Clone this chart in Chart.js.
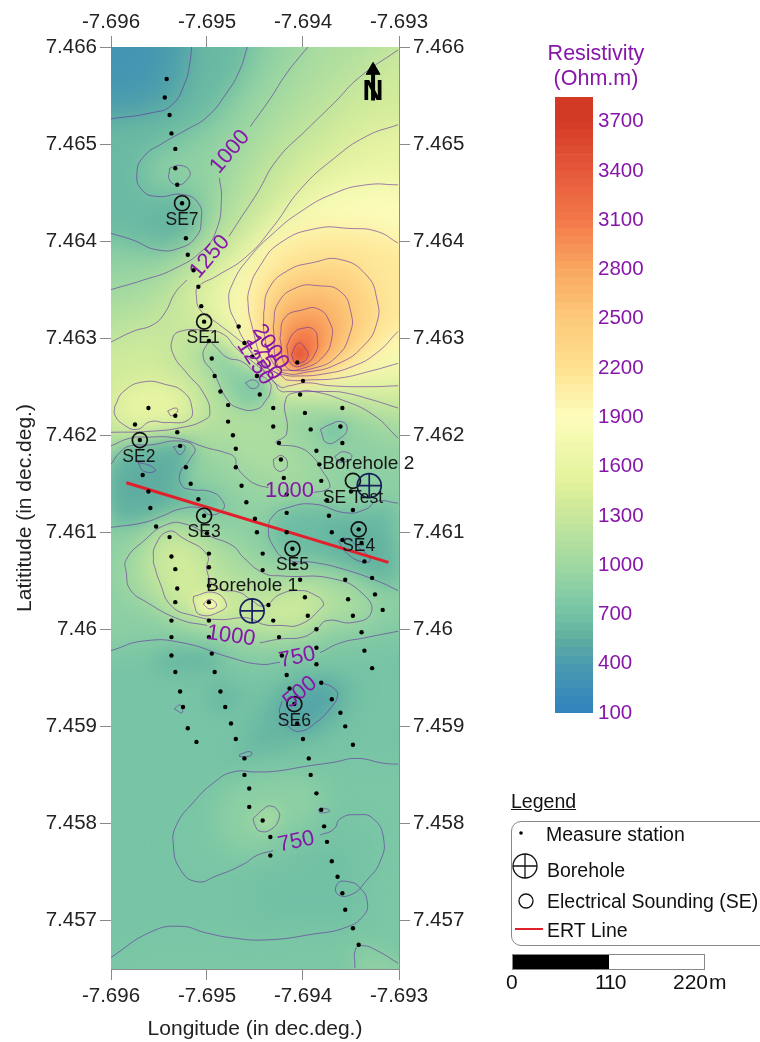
<!DOCTYPE html>
<html>
<head>
<meta charset="utf-8">
<script src="https://cdn.jsdelivr.net/npm/chart.js@4/dist/chart.umd.min.js"></script>
<style>
  body { margin: 0; background: #fff; width: 760px; height: 1042px; overflow: hidden; position: relative;
         font-family: "Liberation Sans", Arial, sans-serif; color: #111; }
  canvas { position: absolute; top: 0; }
  .t { position: absolute; font-size: 19.5px; white-space: nowrap; line-height: 20px; }
  .n { position: absolute; font-size: 21px; white-space: nowrap; line-height: 22px; top: 971px; }
  #barTitle { position: absolute; left: 496px; top: 41px; width: 200px; text-align: center; color: #8717a8; font-size: 21.5px; line-height: 25px; }
  #legendBox { position: absolute; left: 511px; top: 821px; width: 270px; height: 123px; border: 1px solid #888; border-radius: 10px; }
  #legendMarks { position: absolute; left: 505px; top: 820px; }
  #scaleBar { position: absolute; left: 512px; top: 954px; width: 191px; height: 14px; border: 1px solid #888; box-sizing: content-box; }
  #scaleBar div { width: 96px; height: 14px; background: #000; }
</style>
</head>
<body>
<canvas id="map" width="760" height="1042" style="left:0"></canvas>
<canvas id="bar" width="192" height="1042" style="left:500px"></canvas>

<div id="barTitle">Resistivity<br>(Ohm.m)</div>
<div class="t" style="left:511px;top:791px;text-decoration:underline">Legend</div>
<div id="legendBox"></div>
<svg id="legendMarks" width="50" height="125">
  <circle cx="16" cy="13" r="1.8" fill="#000"/>
  <circle cx="20" cy="46" r="12" fill="none" stroke="#111" stroke-width="1.3"/>
  <path d="M8 46H32M20 34V58" stroke="#111" stroke-width="1.3"/>
  <circle cx="21" cy="81" r="7" fill="none" stroke="#111" stroke-width="1.3"/>
  <path d="M10 109H38" stroke="#e0202a" stroke-width="2"/>
</svg>
<div class="t" style="left:546px;top:824px">Measure station</div>
<div class="t" style="left:547px;top:860px">Borehole</div>
<div class="t" style="left:547px;top:891px">Electrical Sounding (SE)</div>
<div class="t" style="left:547px;top:920px">ERT Line</div>
<div id="scaleBar"><div></div></div>
<div class="n" style="left:506px">0</div>
<div class="n" style="left:595px;letter-spacing:-1px">110</div>
<div class="n" style="left:673px">220</div>
<div class="n" style="left:709px">m</div>

<script>
// all map points are [east, south], in 1e-5 degrees from the NW corner (-7.696, 7.466)
const xTicks = [-7.696, -7.695, -7.694, -7.693];
const yTicks = [7.466, 7.465, 7.464, 7.463, 7.462, 7.461, 7.46, 7.459, 7.458, 7.457];
const barTicks = [100, 400, 700, 1000, 1300, 1600, 1900, 2200, 2500, 2800, 3100, 3400, 3700];
const barLevels = [100,150,200,250,300,350,400,450,500,550,600,650,700,750,800,850,900,950,1000,1050,1100,1150,1200,1250,1300,1350,1400,1450,1500,1550,1600,1650,1700,1750,1800,1850,1900,1950,2000,2050,2100,2150,2200,2250,2300,2350,2400,2450,2500,2550,2600,2650,2700,2750,2800,2850,2900,2950,3000,3050,3100,3150,3200,3250,3300,3350,3400,3450,3500,3550,3600,3650,3700,3750,3800];
const colorValues = [100, 400, 550, 700, 1000, 1300, 1500, 1900, 2200, 2500, 2800, 3100, 3400, 3700, 3850];
const colorHex = ['#3182bd','#4a9bb0','#5fae9f','#74c3a6','#a0d8a2','#c8e79b','#e2f29a','#fdfdbc','#fee18f','#fdc97a','#f9a75f','#f3784a','#e5583a','#d33a26','#d33a26'];

const stations = [[58,33],[56,52],[61,70],[63,89],[67,105],[67,125],[69,142],[74,161],[78,197],[80,214],[86,230],[91,247],[94,267],[97,283],[102,303],[105,321],[133,288],[139,305],[147,319],[108,339],[114,355],[122,369],[122,386],[127,400],[130,414],[130,433],[136,452],[141,469],[150,486],[152,500],[158,522],[158,539],[152,339],[155,358],[169,372],[169,391],[175,408],[177,425],[180,444],[183,461],[183,480],[183,500],[189,517],[191,533],[197,549],[202,567],[205,586],[214,600],[214,619],[214,636],[194,325],[200,344],[197,358],[202,377],[208,394],[214,416],[217,430],[219,447],[225,467],[227,483],[230,500],[241,508],[244,549],[247,569],[252,586],[261,603],[264,622],[272,640],[241,372],[239,391],[241,408],[241,425],[250,458],[252,477],[258,497],[261,511],[264,530],[272,547],[275,564],[283,580],[39,372],[67,380],[25,389],[69,397],[30,405],[72,411],[78,433],[33,441],[83,450],[39,458],[91,466],[41,475],[97,483],[47,494],[100,501],[61,505],[102,522],[63,525],[102,536],[67,538],[102,555],[69,558],[67,572],[102,572],[63,591],[102,591],[63,608],[102,608],[63,627],[105,625],[164,575],[169,591],[175,608],[178,627],[67,644],[108,644],[72,664],[114,664],[75,680],[119,680],[80,702],[125,697],[89,716],[130,713],[139,733],[139,750],[144,764],[144,783],[158,797],[166,814],[166,833],[183,647],[186,661],[191,677],[194,697],[200,713],[206,733],[208,750],[214,769],[219,786],[222,803],[225,819],[230,839],[236,855],[241,872],[244,889],[252,908],[258,925],[219,655],[230,672],[239,686],[244,700],[252,719]];
const soundings = [[74,161],[97,283],[30,405],[97,483],[189,517],[258,497],[191,677],[252,447]];
const boreholes = [[147,581],[269,452]];
const ertLine = [[16,449],[289,531]];
const northStem = [[273,24],[273,55]];
const northHead = [[273,24]];

// contour lines, one array per drawn piece
const c500top = [[84,0],[82,17],[77,37],[63,60],[41,68],[0,74]];
const c750top = [[142,0],[134,24],[120,48],[100,72],[79,85],[54,99],[34,113],[27,130],[32,147],[48,154],[75,152],[91,161],[94,178],[89,195],[72,207],[48,209],[23,199],[0,192]];
const c1000a = [[205,0],[183,27],[166,53],[145,82]];
const c1000b = [[113,135],[115,157],[110,188],[96,209],[65,229],[34,240],[0,250]];
const c1250a = [[299,3],[259,31],[232,58],[204,85],[173,116],[152,151],[134,178],[123,195]];
const c1250b = [[79,240],[67,253],[56,274],[44,286],[23,293],[0,304]];
const c1500 = [[299,80],[266,92],[232,115],[197,147],[169,185],[141,216],[110,236],[91,247],[89,257],[93,271],[110,284],[131,300],[143,310],[157,330],[176,350],[186,349],[204,346],[228,349],[270,350],[299,349]];
const c1750 = [[299,142],[266,142],[232,151],[197,170],[169,192],[145,216],[127,243],[123,264],[131,286],[138,301],[155,325],[178,339],[183,343],[207,343],[239,341],[270,334],[299,326]];
const c2000 = [[299,202],[277,190],[249,187],[214,187],[176,202],[155,226],[144,250],[143,267],[146,284],[159,326],[169,334],[181,338],[193,339],[221,337],[252,329],[277,315],[299,293]];
const peak2250 = [[159,274],[164,250],[183,231],[211,222],[239,219],[266,235],[277,260],[277,284],[263,308],[235,327],[204,335],[181,336],[169,326],[160,298],[159,274]];
const peak2500 = [[169,288],[174,264],[193,248],[216,246],[239,252],[250,274],[249,295],[235,319],[211,331],[186,333],[174,329],[169,288]];
const peak2750 = [[176,300],[181,279],[199,271],[216,270],[228,284],[230,300],[221,319],[200,331],[183,330],[176,300]];
const peak3000 = [[183,308],[190,295],[199,290],[211,291],[215,302],[213,315],[202,327],[188,327],[183,308]];
const peak3250 = [[188,317],[195,305],[202,310],[205,319],[197,326],[192,326],[188,317]];
const c1250west = [[299,372],[270,363],[242,356],[228,355],[186,355],[176,354],[170,345],[152,328],[130,310],[117,296],[98,292],[72,293],[64,301],[65,317],[79,336],[96,356],[103,377],[96,385],[74,392],[41,396],[0,397]];
const blobSE1 = [[102,302],[96,319],[107,336],[121,363],[133,372],[152,373],[162,363],[166,355],[165,345],[150,335],[136,324],[121,320],[110,310],[102,302]];
const c1000mid1 = [[0,411],[20,403],[35,402],[68,403],[100,413],[119,418],[129,423],[131,432],[141,444],[152,451],[164,454]];
const c1000mid2 = [[211,459],[225,456],[228,451],[219,435],[211,423],[197,413],[172,408],[183,398],[182,363],[197,355],[211,355],[239,363],[273,379],[299,403]];
const lowSE2 = [[0,430],[9,418],[20,411],[41,410],[72,406],[87,413],[82,425],[72,439],[74,452],[84,456],[103,458],[115,466],[117,476],[103,482],[93,475],[72,476],[54,483],[34,490],[0,495]];
const lowSE5 = [[299,470],[277,468],[266,476],[245,480],[211,471],[183,475],[169,483],[164,497],[169,514],[183,528],[211,531],[242,538],[277,550],[299,560]];
const c1000low = [[155,614],[176,610],[200,608],[214,600],[225,591],[252,593],[271,583],[263,564],[232,548],[178,545],[159,542],[138,526],[127,514],[103,504],[79,492],[58,492],[34,509],[16,528],[16,542],[20,559],[37,572],[72,590],[100,596]];
const c1250low = [[44,531],[51,552],[63,576],[86,586],[113,590],[138,588],[148,590],[159,595],[176,596],[197,595],[219,578],[221,572],[211,564],[197,560],[176,564],[159,576],[145,569],[134,562],[110,557],[100,540],[100,523],[75,506],[60,499],[46,514],[44,531]];
const c1500low = [[86,566],[107,562],[120,573],[115,581],[93,585],[86,572],[86,566]];
const c1750low = [[96,574],[103,569],[110,575],[103,579],[96,574]];
const c1500west = [[4,370],[13,355],[34,345],[58,348],[75,355],[84,370],[81,384],[58,387],[41,386],[27,394],[13,389],[4,379],[4,370]];
const c750a = [[0,622],[34,612],[75,614],[124,629],[155,636],[176,634]];
const c750b = [[218,624],[239,614],[263,609],[299,602]];
const c750c = [[299,739],[284,738],[256,733],[232,737],[204,741],[173,746],[152,747],[127,747],[107,758],[86,778],[68,802],[65,823],[72,847],[89,860],[110,854],[138,842],[152,833],[169,828]];
const c750d = [[218,812],[232,806],[239,795],[256,791],[273,795],[284,816],[280,840],[266,859],[251,873],[236,873],[236,862],[247,860],[259,866],[267,881],[263,895],[245,907],[211,914],[162,920],[127,918],[100,913],[72,906],[41,912],[0,938]];
const c1000corner = [[254,949],[255,929],[263,926],[277,931],[299,944]];
const c500SE6 = [[219,655],[231,660],[236,668],[228,682],[211,698],[197,705],[186,701],[176,687],[178,674]];
const isleA = [[61,125],[72,122],[82,128],[79,137],[70,142],[61,137],[61,125]];
const isleB = [[140,346],[148,343],[154,348],[147,352],[140,346]];
const isleC = [[59,375],[68,372],[69,376],[63,380],[59,375]];
const isleD = [[65,412],[77,411],[72,420],[65,412]];
const isleE = [[28,428],[42,432],[46,437],[34,437],[28,428]];
const isleF = [[218,394],[228,389],[240,386],[246,393],[239,403],[225,408],[218,394]];
const isleG = [[169,425],[178,421],[184,430],[178,437],[171,434],[169,425]];
const isleH = [[233,422],[242,417],[251,422],[239,428],[233,422]];
const isleI = [[237,509],[244,506],[256,514],[270,528],[263,531],[245,521],[237,509]];
const isleJ = [[66,682],[72,678],[74,686],[66,682]];
const isleK = [[134,729],[145,726],[146,730],[134,731],[134,729]];
const isleL = [[216,786],[219,784],[228,787],[218,789],[216,786]];
const isleM = [[148,795],[159,785],[166,782],[174,787],[175,795],[167,806],[155,808],[150,802],[148,795]];

const contourLines = [c500top,c750top,c1000a,c1000b,c1250a,c1250b,c1500,c1750,c2000,peak2250,peak2500,peak2750,peak3000,peak3250,c1250west,blobSE1,c1000mid1,c1000mid2,lowSE2,lowSE5,c1000low,c1250low,c1500low,c1750low,c1500west,c750a,c750b,c750c,c750d,c1000corner,c500SE6,isleA,isleB,isleC,isleD,isleE,isleF,isleG,isleH,isleI,isleJ,isleK,isleL,isleM];

// extra pockets of colour seen in the picture that have no contour of their own
const deepNW = [[-40,-40],[60,-40],[55,25],[35,50],[-40,55]];
const pocketSE7 = [[55,170],[85,165],[88,190],[60,200],[45,185]];
const pocketBlob = [[130,345],[155,338],[162,360],[140,370]];
const deepSE2 = [[0,440],[15,425],[60,415],[80,415],[72,437],[60,470],[30,480],[0,480]];
const deepSE4 = [[225,490],[270,490],[290,510],[295,545],[260,535],[225,515]];
const tealSE6 = [[152,686],[183,651],[211,645],[239,648],[256,661],[245,689],[218,710],[183,720],[152,730],[134,734]];
const tealMid = [[100,662],[117,655],[134,665],[131,682],[113,686],[103,675]];
const tealWest = [[48,625],[75,622],[110,622],[115,640],[80,645],[45,640]];
const tealSouthA = [[211,830],[245,830],[245,860],[211,860]];
const tealSouthB = [[155,860],[240,860],[258,880],[258,900],[200,895],[155,890]];
const paleMiddle = [[115,770],[150,755],[210,750],[225,775],[205,800],[170,820],[140,835],[120,820],[112,795]];

const fullRect = [[-40,-40],[340,-40],[340,990],[-40,990]];
const band750 = [].concat(c750top, [[-40,192],[-40,622]], c750a, c750b, [[340,602],[340,-40],[142,-40]]);
const bandNW = [].concat(c750top, [[-40,192],[-40,-40],[142,-40]]);
const bandNW500 = [].concat(c500top, [[-40,74],[-40,-40],[84,-40]]);
const band1000 = [].concat(c1000a, c1000b, [[-40,250],[-40,411]], c1000mid1, c1000mid2, [[340,403],[340,-40],[205,-40]]);
const band1250 = [].concat(c1250a, c1250b, [[-40,304],[-40,397]], c1250west.slice().reverse(), [[340,372],[340,-40],[299,-40]]);
const band1500 = [].concat(c1500, [[340,349],[340,80]]);
const band1750 = [].concat(c1750, [[340,326],[340,142]]);
const band2000 = [].concat(c2000, [[340,293],[340,202]]);
const bandSouth = [].concat(c750c, c750d, [[-40,938],[-40,990],[340,990],[340,739]]);
const bandCorner = [].concat(c1000corner, [[340,944],[340,990],[254,990]]);

const bandShapes = [fullRect,band750,bandNW,bandNW500,deepNW,pocketSE7,band1000,band1250,band1500,c1500west,band1750,band2000,peak2250,peak2500,peak2750,peak3000,peak3250,blobSE1,pocketBlob,isleF,lowSE2,deepSE2,lowSE5,deepSE4,c1000low,c1250low,c1500low,c1750low,tealSE6,c500SE6,tealMid,tealWest,bandSouth,paleMiddle,isleM,tealSouthA,tealSouthB,bandCorner];
const bandValues = [720,880,630,460,330,590,1130,1375,1625,1600,1875,2125,2375,2625,2875,3100,3400,880,790,740,640,540,650,570,1130,1370,1625,1880,610,480,620,620,755,880,1080,680,680,900];
const bandBlurs = [0,18,14,12,16,9,22,20,18,12,16,13,11,10,8,6,4,9,7,6,9,11,10,11,14,12,6,4,11,8,9,8,16,14,8,12,12,12];

const textLabels = ['SE7','SE1','SE2','SE3','SE5','SE4','SE6','SE Test'];
const textSpots = [[74,178],[96,300],[29,423],[97,500],[189,534],[258,514],[191,695],[252,465]];
const boreLabels = ['Borehole 1','Borehole 2'];
const boreSpots = [[147,555],[268,429]];
const contourLabels = ['1000','1250','1000','1000','750','750','500','2000','1750','1250'];
const contourSpots = [[124,108],[103,216],[186,457],[125,607],[194,629],[193,819],[197,665],[166,309],[159,320],[150,325]];
const contourAngles = [-50,-50,0,8,-12,-12,-40,57,57,57];

const toLon = e => -7.696 + e / 1e5;
const toLat = s => 7.466 - s / 1e5;
const toXY = pts => pts.map(p => ({ x: toLon(p[0]), y: toLat(p[1]) }));

function valueColor(v) {
    let i = 0;
    while (i < colorValues.length - 2 && v > colorValues[i + 1]) i++;
    const t = Math.min(1, Math.max(0, (v - colorValues[i]) / (colorValues[i + 1] - colorValues[i])));
    const a = parseInt(colorHex[i].slice(1), 16), b = parseInt(colorHex[i + 1].slice(1), 16);
    const mix = sh => Math.round(((a >> sh) & 255) * (1 - t) + ((b >> sh) & 255) * t);
    return `rgb(${mix(16)},${mix(8)},${mix(0)})`;
}

const fontName = '"Liberation Sans", Arial, sans-serif';
const purple = '#8717a8';
const axisGrey = '#8a8a8a';

// bands are hidden datasets, the fill is painted from their parsed points with a blur to get the smooth shading
const bandFill = {
    id: 'bandFill',
    beforeDatasetsDraw(chart) {
        const { ctx, chartArea: a } = chart;
        ctx.save();
        ctx.beginPath();
        ctx.rect(a.left, a.top, a.right - a.left, a.bottom - a.top);
        ctx.clip();
        bandShapes.forEach((shape, i) => {
            const pts = chart.getDatasetMeta(i).data;
            ctx.filter = bandBlurs[i] ? `blur(${bandBlurs[i]}px)` : 'none';
            ctx.fillStyle = valueColor(bandValues[i]);
            ctx.beginPath();
            pts.forEach((p, k) => k ? ctx.lineTo(p.x, p.y) : ctx.moveTo(p.x, p.y));
            ctx.closePath();
            ctx.fill();
        });
        ctx.restore();
    }
};

const mapText = {
    id: 'mapText',
    afterDatasetsDraw(chart) {
        const { ctx, scales } = chart;
        const put = (txt, spot, font, color, deg) => {
            ctx.save();
            ctx.translate(scales.x.getPixelForValue(toLon(spot[0])), scales.y.getPixelForValue(toLat(spot[1])));
            ctx.rotate((deg || 0) * Math.PI / 180);
            ctx.font = font;
            ctx.fillStyle = color;
            ctx.textAlign = 'center';
            ctx.textBaseline = 'middle';
            ctx.fillText(txt, 0, 0);
            ctx.restore();
        };
        contourLabels.forEach((t, i) => put(t, contourSpots[i], `22px ${fontName}`, purple, contourAngles[i]));
        textLabels.forEach((t, i) => put(t, textSpots[i], `17.5px ${fontName}`, '#161616'));
        boreLabels.forEach((t, i) => put(t, boreSpots[i], `19px ${fontName}`, '#161616'));
        put('N', [273, 46], `bold 29px ${fontName}`, '#000');
    }
};

const bandSets = bandShapes.map(s => ({ data: toXY(s), showLine: false, pointRadius: 0 }));
const lineSets = contourLines.map(c => ({
    data: toXY(c), showLine: true, pointRadius: 0, borderWidth: 1,
    borderColor: 'rgba(104,48,160,0.62)', tension: 0.5, fill: false
}));
const markSets = [
    { data: toXY(ertLine), showLine: true, pointRadius: 0, borderWidth: 3, borderColor: '#e1202c' },
    { data: toXY(northStem), showLine: true, pointRadius: 0, borderWidth: 4, borderColor: '#000' },
    { data: toXY(northHead), pointStyle: 'triangle', pointRadius: 8, backgroundColor: '#000', borderColor: '#000' },
    { data: toXY(stations), pointRadius: 2.2, backgroundColor: '#000', borderWidth: 0 },
    { data: toXY(soundings), pointRadius: 7.5, backgroundColor: 'transparent', borderColor: '#111', borderWidth: 1.7 },
    { data: toXY(boreholes), pointRadius: 12, backgroundColor: 'transparent', borderColor: '#16205e', borderWidth: 1.7 },
    { data: toXY(boreholes), pointStyle: 'cross', pointRadius: 12, borderColor: '#16205e', borderWidth: 1.7 }
];
const allSets = bandSets.concat(lineSets, markSets);
allSets.forEach((d, i) => { d.order = -i; });

const tickFont = { family: fontName, size: 20.5 };
const titleFont = { family: fontName, size: 21 };
function lonAxis(position, height, pad, title) {
    return {
        type: 'linear', position, min: -7.696, max: -7.693,
        border: { color: axisGrey },
        grid: { drawOnChartArea: false, color: axisGrey, tickLength: 11 },
        ticks: { font: tickFont, color: '#222', padding: pad, maxRotation: 0, callback: v => String(parseFloat(v.toFixed(3))) },
        afterBuildTicks: s => { s.ticks = xTicks.map(v => ({ value: v })); },
        afterFit: s => { s.height = height; },
        title
    };
}
function latAxis(position, width, title) {
    return {
        type: 'linear', position, min: 7.4565, max: 7.466,
        border: { color: axisGrey },
        grid: { drawOnChartArea: false, color: axisGrey, tickLength: 11 },
        ticks: { font: tickFont, color: '#222', padding: 3, callback: v => String(parseFloat(v.toFixed(3))) },
        afterBuildTicks: s => { s.ticks = yTicks.map(v => ({ value: v })); },
        afterFit: s => { s.width = width; },
        title
    };
}

new Chart(document.getElementById('map'), {
    type: 'scatter',
    data: { datasets: allSets },
    plugins: [bandFill, mapText],
    options: {
        responsive: false,
        animation: false,
        events: [],
        plugins: { legend: { display: false }, tooltip: { enabled: false } },
        scales: {
            x: lonAxis('bottom', 73, 4, { display: true, text: 'Longitude (in dec.deg.)', font: titleFont, color: '#222', padding: { top: 0, bottom: 0 } }),
            x2: lonAxis('top', 47, 1),
            y: latAxis('left', 111, { display: true, text: 'Latititude (in dec.deg.)', font: titleFont, color: '#222', padding: { top: 13, bottom: 0 } }),
            y2: latAxis('right', 361)
        }
    }
});

new Chart(document.getElementById('bar'), {
    type: 'bar',
    data: {
        labels: ['Resistivity'],
        datasets: barLevels.map(v => ({
            data: [[v, v + 50]],
            backgroundColor: valueColor(v + 25),
            grouped: false,
            barPercentage: 1,
            categoryPercentage: 1
        }))
    },
    options: {
        responsive: false,
        animation: false,
        events: [],
        layout: { padding: { left: 55, top: 97, bottom: 329 } },
        plugins: { legend: { display: false }, tooltip: { enabled: false } },
        scales: {
            x: { display: false },
            y: {
                position: 'right', min: 100, max: 3850,
                border: { display: false },
                grid: { display: false, drawTicks: false },
                ticks: { font: { family: fontName, size: 20.5 }, color: purple, padding: 5, callback: v => String(v) },
                afterBuildTicks: s => { s.ticks = barTicks.map(v => ({ value: v })); },
                afterFit: s => { s.width = 99; }
            }
        }
    }
});
</script>
</body>
</html>
